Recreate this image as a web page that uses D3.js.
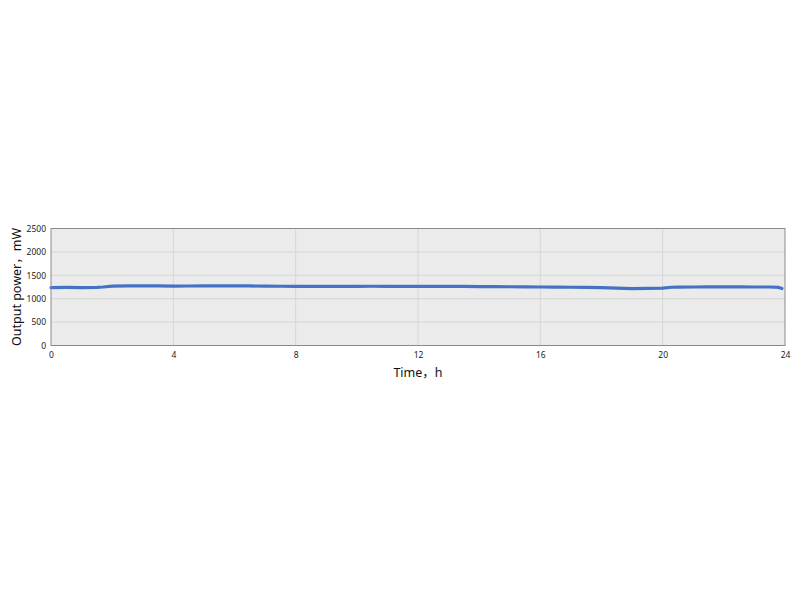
<!DOCTYPE html>
<html>
<head>
<meta charset="utf-8">
<script src="https://cdn.jsdelivr.net/npm/d3@7"></script>
<style>
  html, body { margin: 0; padding: 0; background: #fff; }
  svg { display: block; font-family: "Noto Sans", "Noto Sans CJK SC", sans-serif; }
  .tick text { fill: #222; font-size: 8.5px; }
  .title { fill: #111; font-size: 12.5px; }
</style>
</head>
<body>
<div id="chart"></div>
<script>
// time (h) and output power (mW)
const hours = [0, 0.5, 1, 1.5, 1.7, 2, 2.5, 3, 3.5, 4, 4.5, 5, 5.5, 6, 6.5, 7, 7.5, 8, 8.5, 9, 9.5, 10,
  10.5, 11, 11.5, 12, 12.5, 13, 13.5, 14, 14.5, 15, 15.5, 16, 16.5, 17, 17.5, 18, 18.5, 19, 19.5, 20,
  20.3, 20.5, 21, 21.5, 22, 22.5, 23, 23.5, 23.8, 23.9];
const power = [1235, 1240, 1238, 1242, 1250, 1268, 1272, 1275, 1273, 1270, 1271, 1274, 1276, 1275, 1272, 1268, 1266, 1265, 1262, 1262, 1264, 1265,
  1266, 1265, 1263, 1262, 1264, 1265, 1262, 1258, 1257, 1255, 1253, 1250, 1247, 1245, 1240, 1235, 1228, 1215, 1220, 1225,
  1245, 1248, 1250, 1252, 1252, 1253, 1250, 1250, 1240, 1218];
const xTicks = [0, 4, 8, 12, 16, 20, 24];
const yTicks = [0, 500, 1000, 1500, 2000, 2500];

const width = 800, height = 600;
const margin = { left: 51, right: 15, top: 228.5, bottom: 254.5 };

const svg = d3.select("#chart").append("svg")
  .attr("width", width)
  .attr("height", height);

const x = d3.scaleLinear().domain([0, 24]).range([margin.left, width - margin.right]);
const y = d3.scaleLinear().domain([0, 2500]).range([height - margin.bottom, margin.top]);

// plot background
svg.append("rect")
  .attr("x", x(0)).attr("y", y(2500))
  .attr("width", x(24) - x(0)).attr("height", y(0) - y(2500))
  .attr("fill", "#ebebeb");

// grid
svg.append("g").selectAll("line.gx")
  .data(xTicks.slice(1, -1))
  .join("line")
  .attr("x1", d => x(d)).attr("x2", d => x(d))
  .attr("y1", y(0)).attr("y2", y(2500))
  .attr("stroke", "#d6d6d6").attr("stroke-width", 1);

svg.append("g").selectAll("line.gy")
  .data(yTicks.slice(1, -1))
  .join("line")
  .attr("x1", x(0)).attr("x2", x(24))
  .attr("y1", d => y(d)).attr("y2", d => y(d))
  .attr("stroke", "#d6d6d6").attr("stroke-width", 1);

// data line
const pts = hours.map((h, i) => [h, power[i]]);
svg.append("path")
  .datum(pts)
  .attr("fill", "none")
  .attr("stroke", "#4472c4")
  .attr("stroke-width", 3.2)
  .attr("stroke-linejoin", "round")
  .attr("stroke-linecap", "round")
  .attr("d", d3.line().x(d => x(d[0])).y(d => y(d[1])));

// border
svg.append("rect")
  .attr("x", x(0)).attr("y", y(2500))
  .attr("width", x(24) - x(0)).attr("height", y(0) - y(2500))
  .attr("fill", "none").attr("stroke", "#8a8a8a").attr("stroke-width", 1);

// axes
const xAxis = svg.append("g")
  .attr("transform", "translate(0," + y(0) + ")")
  .call(d3.axisBottom(x).tickValues(xTicks).tickFormat(d3.format("d")).tickSize(0).tickPadding(6));
xAxis.select(".domain").remove();

const yAxis = svg.append("g")
  .attr("transform", "translate(" + x(0) + ",0)")
  .call(d3.axisLeft(y).tickValues(yTicks).tickFormat(d3.format("d")).tickSize(0).tickPadding(5));
yAxis.select(".domain").remove();

svg.selectAll(".tick text").attr("font-family", "'Noto Sans', sans-serif");

svg.append("text")
  .attr("class", "title")
  .attr("x", (x(0) + x(24)) / 2)
  .attr("y", 377)
  .attr("text-anchor", "middle")
  .text("Time，h");

svg.append("text")
  .attr("class", "title")
  .attr("transform", "translate(21," + (y(0) + y(2500)) / 2 + ") rotate(-90)")
  .attr("text-anchor", "middle")
  .text("Output power，mW");
</script>
</body>
</html>
